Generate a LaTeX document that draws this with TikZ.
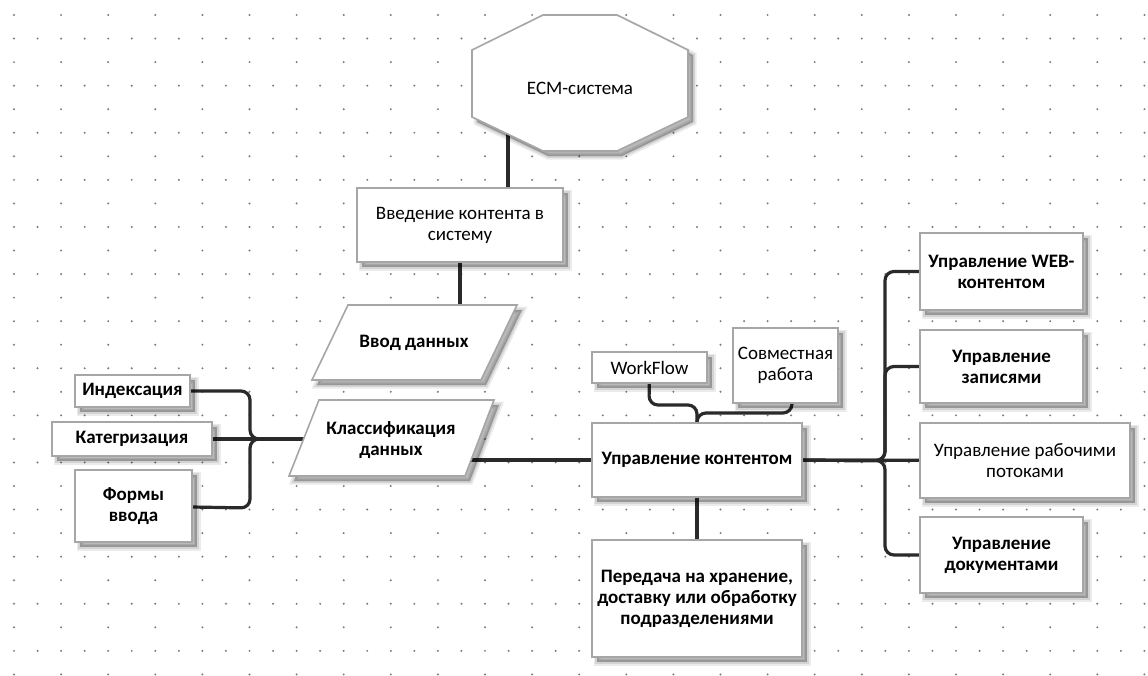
\documentclass[tikz,border=0pt]{standalone}
\usepackage{fontspec}
\setmainfont{Carlito}
\usetikzlibrary{calc}
\pgfdeclarelayer{background}
\pgfsetlayers{background,main}
\definecolor{edgegray}{HTML}{A6A6A6}
\definecolor{wiregray}{HTML}{2A2A2A}
\definecolor{dotgray}{HTML}{7A7A7A}
\tikzset{
  % soft drop shadow built from stacked translucent copies
  softshadow/.style={
    preaction={draw=black, fill=black, opacity=0.08, line width=7pt, transform canvas={shift={(5pt,-5pt)}}},
    preaction={draw=black, fill=black, opacity=0.10, line width=3.5pt, transform canvas={shift={(5pt,-5pt)}}},
    preaction={fill=black, opacity=0.12, transform canvas={shift={(5pt,-5pt)}}}},
  outline/.style={draw=edgegray, line width=1.6pt, fill=white, softshadow},
  box/.style={outline, rectangle, inner sep=0pt, align=center, font=\fontsize{19}{21}\selectfont},
  boldbox/.style={box, font=\fontsize{19}{21}\selectfont\bfseries},
  plaintext/.style={align=center, inner sep=0pt, font=\fontsize{19}{21}\selectfont},
  boldtext/.style={plaintext, font=\fontsize{19}{21}\selectfont\bfseries},
  wire/.style={draw=wiregray, line width=3.2pt, rounded corners=9pt},
}
\begin{document}
\begin{tikzpicture}[x=1pt, y=-1pt]
\useasboundingbox (0,0) rectangle (1148,675);

% paper and dotted grid
\begin{pgfonlayer}{background}
  \fill[white] (0,0) rectangle (1148,675);
  \foreach \k in {0,2,...,28}
    \foreach \j in {0,2,...,48}
      \fill[dotgray] (14+23.55*\j, 15+23.55*\k) circle (1.1pt);
  \foreach \k in {1,3,...,27}
    \foreach \j in {0,1,...,48}
      \fill[dotgray] (14+23.55*\j, 15+23.55*\k) circle (1.1pt);
\end{pgfonlayer}

% ECM system (octagon)
\path[outline] (543,15) -- (617,15) -- (688,50) -- (688,117) -- (617,151)
  -- (543,151) -- (472,117) -- (472,50) -- cycle;
\node[plaintext] (ecm) at (580,88) {ECM-система};
\coordinate (ecmfoot) at (508,110);

% input chain
\node[box, minimum width=206pt, minimum height=74pt] (vved) at (460,225)
  {Введение контента в\\систему};

\path[outline] (348,305) -- (517,305) -- (481,380) -- (312,380) -- cycle;
\node[boldtext] (vvod) at (414,343) {Ввод данных};

\path[outline] (319,400) -- (494,400) -- (465,476) -- (289,476) -- cycle;
\node[boldtext] (klass) at (391,440) {Классификация\\данных};

% classification sources
\node[boldbox, minimum width=115pt, minimum height=32pt] (ind) at (132.5,391) {Индексация};
\node[boldbox, minimum width=160pt, minimum height=34pt] (kat) at (132,439) {Категризация};
\node[boldbox, minimum width=117pt, minimum height=72pt] (forms) at (133.5,506) {Формы\\ввода};

% content management core
\node[boldbox, minimum width=210pt, minimum height=74pt] (uk) at (697,460) {Управление контентом};
\node[box, minimum width=115pt, minimum height=31pt] (wf) at (649.5,367.5) {WorkFlow};
\node[box, minimum width=105pt, minimum height=75pt] (sr) at (785.5,365.5) {Совместная\\работа};
\node[boldbox, minimum width=210pt, minimum height=117pt] (per) at (697,598.5)
  {Передача на хранение,\\доставку или обработку\\подразделениями};

% management branches
\node[boldbox, minimum width=163pt, minimum height=77pt] (web) at (1001.5,271.5) {Управление WEB-\\контентом};
\node[boldbox, minimum width=163pt, minimum height=73pt] (rec) at (1001.5,366.5) {Управление\\записями};
\node[box, minimum width=210pt, minimum height=75pt] (pot) at (1025,460.5) {Управление рабочими\\потоками};
\node[boldbox, minimum width=163pt, minimum height=76pt] (doc) at (1001.5,555) {Управление\\документами};

% connectors, kept under the shapes
\begin{pgfonlayer}{background}
  \draw[wire] (ecmfoot) -- (vved.center -| ecmfoot);
  \draw[wire] (vved.center) -- (vved.center |- vvod.center);
  \draw[wire] (ind.center) -- (250,391) -- (250,439) -- (klass.center |- kat.center);
  \draw[wire] (kat.center) -- (klass.center |- kat.center);
  \draw[wire] (forms.center) -- (250,508) -- (250,439) -- (klass.center |- kat.center);
  \draw[wire] (uk.center) -- (uk.center -| klass.center);
  \draw[wire] (wf.center) -- (649,405) -- (697,405) -- (uk.center);
  \draw[wire] (sr.center) -- (792,365) -- (792,413) -- (697,413) -- (uk.center);
  \draw[wire] (uk.center) -- (per.center);
  \draw[wire] (uk.center) -- (885,460.5) -- (885,271.5) -- (web.center);
  \draw[wire] (uk.center) -- (885,460.5) -- (885,366.5) -- (rec.center);
  \draw[wire] (uk.center) -- (pot.center);
  \draw[wire] (uk.center) -- (885,460.5) -- (885,555) -- (doc.center);
\end{pgfonlayer}
\end{tikzpicture}
\end{document}
